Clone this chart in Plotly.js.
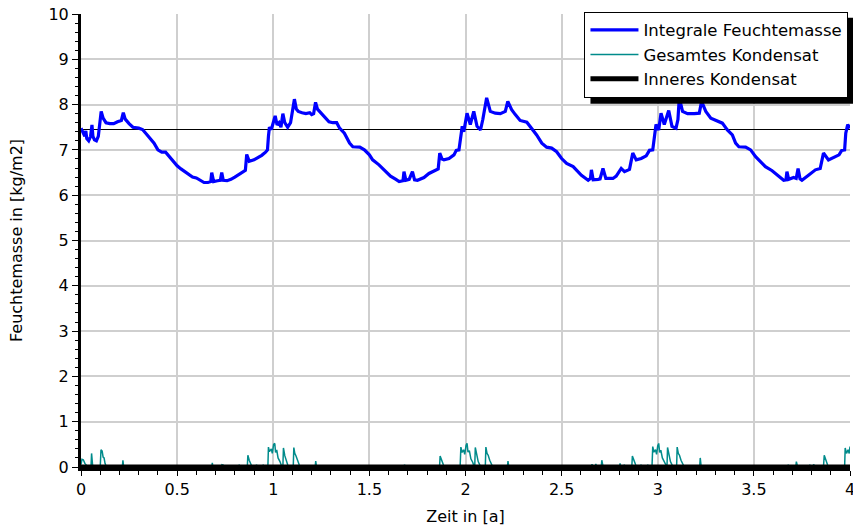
<!DOCTYPE html>
<html>
<head>
<meta charset="utf-8">
<script src="https://cdn.plot.ly/plotly-3.0.1.min.js"></script>
<style>
  html, body { margin: 0; padding: 0; background: #ffffff; }
  #chart { width: 853px; height: 526px; }
</style>
</head>
<body>
<div id="chart"></div>
<script>
// ---- Data ----
const seriesNames = ["Integrale Feuchtemasse", "Gesamtes Kondensat", "Inneres Kondensat"];

// Integrale Feuchtemasse [kg/m2] over time [a]
const timeMass = [
  0.000, 0.010, 0.020, 0.025, 0.030, 0.040, 0.050, 0.057, 0.062, 0.070, 0.080, 0.090, 0.100, 0.105, 0.115,
  0.130, 0.150, 0.170, 0.190, 0.210, 0.220, 0.230, 0.250, 0.270, 0.300, 0.320, 0.340, 0.360, 0.380, 0.400,
  0.420, 0.440, 0.460, 0.480, 0.500, 0.520, 0.540, 0.560, 0.580, 0.600, 0.620, 0.640, 0.660, 0.675, 0.680,
  0.690, 0.710, 0.725, 0.732, 0.740, 0.760, 0.780, 0.800, 0.820, 0.840, 0.855, 0.862, 0.875, 0.900, 0.920,
  0.940, 0.960, 0.970, 0.975, 0.980, 0.990, 1.000, 1.010, 1.020, 1.030, 1.040, 1.050, 1.060, 1.075, 1.090,
  1.100, 1.110, 1.120, 1.130, 1.150, 1.170, 1.190, 1.200, 1.210, 1.220, 1.230, 1.250, 1.270, 1.290, 1.310,
  1.330, 1.345, 1.370, 1.397, 1.414, 1.450, 1.474, 1.500, 1.517, 1.550, 1.586, 1.610, 1.638, 1.655, 1.675,
  1.680, 1.690, 1.707, 1.724, 1.735, 1.750, 1.784, 1.810, 1.845, 1.858, 1.866, 1.878, 1.888, 1.914, 1.940,
  1.952, 1.966, 1.974, 1.983, 1.991, 2.008, 2.025, 2.043, 2.060, 2.078, 2.090, 2.100, 2.110, 2.129, 2.155,
  2.181, 2.207, 2.220, 2.240, 2.259, 2.284, 2.319, 2.345, 2.370, 2.397, 2.422, 2.448, 2.474, 2.500, 2.526,
  2.560, 2.603, 2.638, 2.650, 2.655, 2.664, 2.690, 2.700, 2.715, 2.730, 2.767, 2.784, 2.810, 2.827, 2.853,
  2.870, 2.888, 2.914, 2.940, 2.957, 2.974, 2.983, 2.991, 3.005, 3.017, 3.034, 3.057, 3.074, 3.095, 3.105,
  3.112, 3.129, 3.155, 3.190, 3.216, 3.228, 3.250, 3.276, 3.300, 3.336, 3.362, 3.388, 3.405, 3.422, 3.457,
  3.483, 3.509, 3.534, 3.560, 3.595, 3.630, 3.655, 3.667, 3.672, 3.681, 3.707, 3.720, 3.730, 3.740, 3.750,
  3.784, 3.820, 3.845, 3.862, 3.888, 3.922, 3.943, 3.957, 3.972, 3.978, 3.988, 4.000
];
const massValues = [
  7.48, 7.40, 7.30, 7.42, 7.25, 7.20, 7.30, 7.55, 7.30, 7.22, 7.20, 7.30, 7.60, 7.85, 7.70,
  7.60, 7.58, 7.58, 7.62, 7.65, 7.82, 7.68, 7.58, 7.50, 7.48, 7.45, 7.35, 7.25, 7.15, 7.00,
  6.95, 6.95, 6.85, 6.75, 6.65, 6.58, 6.52, 6.45, 6.40, 6.38, 6.32, 6.28, 6.28, 6.30, 6.50,
  6.30, 6.32, 6.33, 6.50, 6.33, 6.32, 6.35, 6.40, 6.45, 6.52, 6.55, 6.90, 6.75, 6.78, 6.82,
  6.88, 6.95, 7.00, 7.30, 7.50, 7.45, 7.60, 7.75, 7.55, 7.60, 7.50, 7.80, 7.60, 7.50, 7.60,
  7.85, 8.12, 7.90, 7.85, 7.82, 7.80, 7.82, 7.78, 7.80, 8.05, 7.90, 7.80, 7.70, 7.62, 7.60,
  7.60, 7.48, 7.37, 7.15, 7.07, 7.06, 7.00, 6.89, 6.78, 6.67, 6.52, 6.42, 6.35, 6.30, 6.32,
  6.52, 6.33, 6.35, 6.52, 6.34, 6.33, 6.39, 6.48, 6.56, 6.58, 6.93, 6.80, 6.78, 6.81, 6.89,
  6.99, 7.00, 7.30, 7.52, 7.40, 7.81, 7.56, 7.85, 7.52, 7.44, 7.67, 7.89, 8.15, 7.85, 7.81,
  7.80, 7.85, 8.07, 7.89, 7.78, 7.65, 7.61, 7.48, 7.33, 7.15, 7.06, 7.04, 6.96, 6.81, 6.70,
  6.63, 6.44, 6.33, 6.37, 6.56, 6.34, 6.35, 6.36, 6.59, 6.37, 6.37, 6.42, 6.59, 6.52, 6.57,
  6.93, 6.78, 6.81, 6.87, 6.99, 7.00, 7.30, 7.56, 7.44, 7.81, 7.56, 7.87, 7.52, 7.48, 7.67,
  8.15, 7.85, 7.80, 7.80, 7.81, 8.07, 7.85, 7.70, 7.65, 7.59, 7.44, 7.33, 7.15, 7.07, 7.06,
  7.00, 6.85, 6.74, 6.63, 6.54, 6.42, 6.33, 6.34, 6.52, 6.35, 6.39, 6.37, 6.59, 6.36, 6.33,
  6.44, 6.56, 6.59, 6.93, 6.78, 6.85, 6.89, 6.99, 7.00, 7.37, 7.56, 7.48
];

// Gesamtes Kondensat [kg/m2]
const timeCond = [
  0.000, 0.005, 0.012, 0.020, 0.030, 0.045, 0.052, 0.055, 0.060, 0.065, 0.100, 0.104, 0.110, 0.115, 0.120,
  0.125, 0.132, 0.215, 0.218, 0.222, 0.680, 0.683, 0.686, 0.730, 0.733, 0.740, 0.745, 0.800, 0.803, 0.806,
  0.820, 0.823, 0.826, 0.865, 0.868, 0.875, 0.885, 0.890, 0.910, 0.913, 0.916, 0.945, 0.948, 0.952, 0.972,
  0.975, 0.980, 0.990, 0.995, 1.002, 1.008, 1.012, 1.018, 1.025, 1.035, 1.045, 1.050, 1.053, 1.060, 1.068,
  1.075, 1.080, 1.104, 1.107, 1.112, 1.118, 1.125, 1.135, 1.140, 1.218, 1.221, 1.225,
  1.680, 1.683, 1.686, 1.718, 1.721, 1.725, 1.783, 1.787, 1.790, 1.865, 1.868, 1.875, 1.885, 1.890, 1.910,
  1.913, 1.916, 1.940, 1.943, 1.946, 1.972, 1.976, 1.982, 1.990, 1.996, 2.003, 2.008, 2.013, 2.020, 2.028,
  2.038, 2.045, 2.048, 2.051, 2.058, 2.066, 2.075, 2.080, 2.103, 2.106, 2.112, 2.118, 2.126, 2.136, 2.142,
  2.218, 2.221, 2.225,
  2.655, 2.658, 2.662, 2.675, 2.678, 2.682, 2.706, 2.709, 2.714, 2.720, 2.800, 2.804, 2.808, 2.822, 2.826,
  2.830, 2.865, 2.868, 2.875, 2.885, 2.890, 2.910, 2.913, 2.916, 2.945, 2.948, 2.952, 2.970, 2.974, 2.980,
  2.988, 2.994, 3.000, 3.005, 3.010, 3.016, 3.024, 3.035, 3.045, 3.048, 3.051, 3.058, 3.066, 3.075, 3.080,
  3.098, 3.101, 3.107, 3.113, 3.121, 3.131, 3.138, 3.218, 3.221, 3.226,
  3.652, 3.655, 3.658, 3.676, 3.679, 3.683, 3.718, 3.721, 3.726, 3.732, 3.788, 3.791, 3.795, 3.808, 3.811,
  3.815, 3.862, 3.866, 3.873, 3.883, 3.888, 3.918, 3.921, 3.925, 3.955, 3.958, 3.962, 3.972, 3.975, 3.982,
  3.990, 3.996, 4.000
];
const condValues = [
  0.05, 0.17, 0.16, 0.08, 0.03, 0.00, 0.00, 0.30, 0.05, 0.00, 0.00, 0.38, 0.35, 0.22, 0.20,
  0.08, 0.00, 0.00, 0.15, 0.00, 0.00, 0.09, 0.00, 0.00, 0.05, 0.04, 0.00, 0.00, 0.04, 0.00,
  0.00, 0.05, 0.00, 0.00, 0.26, 0.15, 0.05, 0.00, 0.00, 0.05, 0.00, 0.00, 0.05, 0.00, 0.00,
  0.44, 0.34, 0.40, 0.30, 0.50, 0.52, 0.32, 0.38, 0.20, 0.12, 0.00, 0.00, 0.42, 0.25, 0.12,
  0.05, 0.00, 0.00, 0.43, 0.30, 0.25, 0.15, 0.05, 0.00, 0.00, 0.13, 0.00,
  0.00, 0.05, 0.00, 0.00, 0.04, 0.00, 0.00, 0.04, 0.00, 0.00, 0.24, 0.14, 0.05, 0.00, 0.00,
  0.04, 0.00, 0.00, 0.04, 0.00, 0.00, 0.44, 0.32, 0.38, 0.28, 0.48, 0.52, 0.33, 0.36, 0.18,
  0.10, 0.00, 0.00, 0.43, 0.26, 0.12, 0.04, 0.00, 0.00, 0.44, 0.30, 0.26, 0.15, 0.05, 0.00,
  0.00, 0.13, 0.00,
  0.00, 0.06, 0.00, 0.00, 0.07, 0.00, 0.00, 0.15, 0.04, 0.00, 0.00, 0.08, 0.00, 0.00, 0.05,
  0.00, 0.00, 0.24, 0.14, 0.05, 0.00, 0.00, 0.05, 0.00, 0.00, 0.05, 0.00, 0.00, 0.45, 0.33,
  0.38, 0.28, 0.47, 0.52, 0.32, 0.37, 0.20, 0.10, 0.00, 0.00, 0.43, 0.26, 0.12, 0.04, 0.00,
  0.00, 0.44, 0.30, 0.26, 0.15, 0.05, 0.00, 0.00, 0.20, 0.00,
  0.00, 0.03, 0.00, 0.00, 0.05, 0.00, 0.00, 0.12, 0.03, 0.00, 0.00, 0.05, 0.00, 0.00, 0.06,
  0.00, 0.00, 0.26, 0.15, 0.05, 0.00, 0.00, 0.04, 0.00, 0.00, 0.04, 0.00, 0.00, 0.42, 0.30,
  0.38, 0.30, 0.45
];

// Inneres Kondensat [kg/m2]
const timeInner = [0, 4];
const innerValues = [0, 0];

// thin black reference level
const timeRef = [0, 4];
const refValues = [7.45, 7.45];

// axis ticks
const xTicks = [0, 0.5, 1, 1.5, 2, 2.5, 3, 3.5, 4];
const xTickLabels = ["0", "0.5", "1", "1.5", "2", "2.5", "3", "3.5", "4"];
const yTicks = [0, 1, 2, 3, 4, 5, 6, 7, 8, 9, 10];
const yTickLabels = ["0", "1", "2", "3", "4", "5", "6", "7", "8", "9", "10"];

const xTitle = "Zeit in [a]";
const yTitle = "Feuchtemasse in [kg/m2]";

// ---- Plot ----
const FONT = "DejaVu Sans, Liberation Sans, Arial, sans-serif";

const traces = [
  {
    x: timeRef, y: refValues, type: "scatter", mode: "lines",
    line: { color: "#000000", width: 1 }, showlegend: false, hoverinfo: "skip"
  },
  {
    x: timeCond, y: condValues, type: "scatter", mode: "lines", name: seriesNames[1],
    line: { color: "#008b8b", width: 1.5 }, legendrank: 2
  },
  {
    x: timeMass, y: massValues, type: "scatter", mode: "lines", name: seriesNames[0],
    line: { color: "#0000ff", width: 3.2 }, legendrank: 1
  },
  {
    x: timeInner, y: innerValues, type: "scatter", mode: "lines", name: seriesNames[2],
    line: { color: "#000000", width: 5 }, legendrank: 3
  }
];

const layout = {
  width: 853, height: 526,
  margin: { l: 81, r: 3, t: 14, b: 59, autoexpand: false },
  paper_bgcolor: "#ffffff", plot_bgcolor: "#ffffff",
  font: { family: FONT, size: 16, color: "#000000" },
  showlegend: true,
  legend: {
    x: 0.998, xanchor: "right", y: 1.005, yanchor: "top",
    bgcolor: "#ffffff", bordercolor: "#000000", borderwidth: 1,
    font: { family: FONT, size: 16.5, color: "#000000" },
    itemwidth: 48,
    tracegroupgap: 0
  },
  xaxis: {
    range: [0, 4], tickvals: xTicks, ticktext: xTickLabels,
    showgrid: true, gridcolor: "#cfcfcf", gridwidth: 2,
    zeroline: false, showline: true, linecolor: "#000000", linewidth: 4,
    ticks: "outside", ticklen: 5, tickwidth: 1, tickcolor: "#000000",
    minor: { dtick: 0.1, ticks: "outside", ticklen: 4, tickwidth: 1, tickcolor: "#000000", showgrid: false },
    tickfont: { family: FONT, size: 16 },
    ticklabeloverflow: "allow",
    title: { text: xTitle, font: { family: FONT, size: 16 }, standoff: 14 },
    automargin: false, fixedrange: true
  },
  yaxis: {
    range: [0, 10], tickvals: yTicks, ticktext: yTickLabels,
    showgrid: true, gridcolor: "#cfcfcf", gridwidth: 2,
    zeroline: false, showline: true, linecolor: "#000000", linewidth: 3,
    ticks: "outside", ticklen: 6, tickwidth: 1, tickcolor: "#000000",
    minor: { dtick: 0.2, ticks: "outside", ticklen: 3, tickwidth: 1, tickcolor: "#000000", showgrid: false },
    tickfont: { family: FONT, size: 16 },
    ticklabeloverflow: "allow",
    title: { text: yTitle, font: { family: FONT, size: 16 }, standoff: 22 },
    automargin: false, fixedrange: true
  }
};

const gd = document.getElementById("chart");
Plotly.newPlot(gd, traces, layout, { staticPlot: true, displayModeBar: false }).then(function () {
  // drop shadow behind the legend box, offset to the lower right
  const fl = gd._fullLayout;
  const leg = fl.legend;
  const W = leg._width, H = leg._height;
  const pw = fl._size.w, ph = fl._size.h;
  const right = fl._size.l + pw * leg.x;      // anchored right edge in px
  const top = fl._size.t + ph * (1 - leg.y);  // anchored top edge in px
  const off = 6;
  const toX = function (px) { return (px - fl._size.l) / pw; };
  const toY = function (py) { return 1 - (py - fl._size.t) / ph; };
  return Plotly.relayout(gd, {
    shapes: [{
      type: "rect", xref: "paper", yref: "paper",
      x0: toX(right - W + off), x1: toX(right + off),
      y0: toY(top + H + off), y1: toY(top + off),
      fillcolor: "#000000", line: { width: 0 }, layer: "above"
    }]
  });
});
</script>
</body>
</html>
